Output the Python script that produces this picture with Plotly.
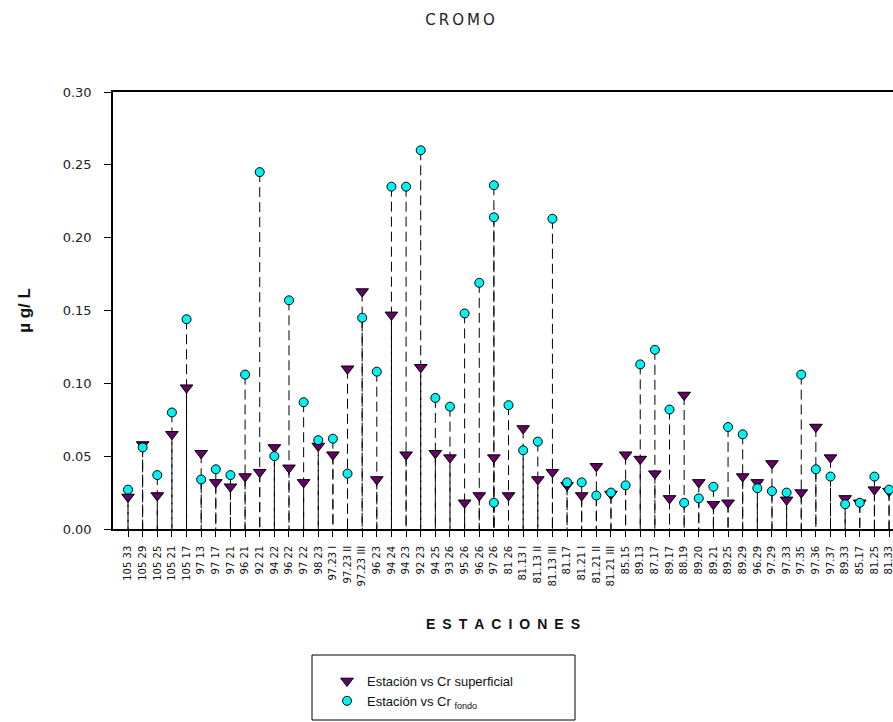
import plotly.graph_objects as go

# Estaciones de muestreo (orden del eje X)
estaciones = [
    "105 33", "105 29", "105 25", "105 21", "105 17", "97 13", "97 17", "97 21",
    "96 21", "92 21", "94 22", "96 22", "97 22", "98 23", "97.23 I", "97.23 II",
    "97.23 III", "96 23", "94 24", "94 23", "92 23", "94 25", "93 26", "95 26",
    "96 26", "97 26", "81 26", "81.13 I", "81.13 II", "81.13 III", "81.17",
    "81.21 I", "81.21 II", "81.21 III", "85.15", "89.13", "87.17", "89.17",
    "88.19", "89.20", "89.21", "89.25", "89.29", "96.29", "97.29", "97.33",
    "97.35", "97.36", "97.37", "89.33", "85.17", "81.25", "81.33",
]

# Cromo en superficie (µg/L)
cr_superficial = [
    0.022, 0.058, 0.023, 0.065, 0.097, 0.052, 0.032, 0.029, 0.036, 0.039,
    0.056, 0.042, 0.032, 0.057, 0.051, 0.110, 0.163, 0.034, 0.147, 0.051,
    0.111, 0.052, 0.049, 0.018, 0.023, 0.049, 0.023, 0.069, 0.034, 0.039,
    0.030, 0.023, 0.043, 0.024, 0.051, 0.048, 0.038, 0.021, 0.092, 0.032,
    0.017, 0.018, 0.036, 0.032, 0.045, 0.020, 0.025, 0.070, 0.049, 0.021,
    0.018, 0.027, 0.026,
]

# Cromo en fondo (µg/L)
cr_fondo = [
    0.027, 0.056, 0.037, 0.080, 0.144, 0.034, 0.041, 0.037, 0.106, 0.245,
    0.050, 0.157, 0.087, 0.061, 0.062, 0.038, 0.145, 0.108, 0.235, 0.235,
    0.260, 0.090, 0.084, 0.148, 0.169, 0.236, 0.085, 0.054, 0.060, 0.213,
    0.032, 0.032, 0.023, 0.025, 0.030, 0.113, 0.123, 0.082, 0.018, 0.021,
    0.029, 0.070, 0.065, 0.028, 0.026, 0.025, 0.106, 0.041, 0.036, 0.017,
    0.018, 0.036, 0.027,
]

# Muestras adicionales de fondo en la estación 97 26
fondo_extra_est = ["97 26", "97 26"]
fondo_extra = [0.214, 0.018]

PURPLE = "#660066"
CYAN = "#00F2F2"


def drop_lines(xs, ys):
    lx, ly = [], []
    for x, y in zip(xs, ys):
        lx += [x, x, None]
        ly += [y, 0, None]
    return lx, ly


fig = go.Figure()

# Líneas verticales discontinuas desde cada punto hasta el eje
for xs, ys in [(estaciones, cr_superficial), (estaciones, cr_fondo),
               (fondo_extra_est, fondo_extra)]:
    lx, ly = drop_lines(xs, ys)
    fig.add_trace(go.Scatter(
        x=lx, y=ly, mode="lines", showlegend=False, hoverinfo="skip",
        line=dict(color="black", width=1, dash="10px,5px"),
    ))

fig.add_trace(go.Scatter(
    x=estaciones, y=cr_superficial, mode="markers",
    name="Estación vs Cr superficial", legendgroup="sup",
    marker=dict(symbol="triangle-down", size=11, color=PURPLE,
                line=dict(color="black", width=1)),
))
fig.add_trace(go.Scatter(
    x=estaciones, y=cr_fondo, mode="markers",
    name="Estación vs Cr <sub>fondo</sub>", legendgroup="fondo",
    marker=dict(symbol="circle", size=9, color=CYAN,
                line=dict(color="black", width=1)),
))
fig.add_trace(go.Scatter(
    x=fondo_extra_est, y=fondo_extra, mode="markers",
    legendgroup="fondo", showlegend=False,
    marker=dict(symbol="circle", size=9, color=CYAN,
                line=dict(color="black", width=1)),
))

W, H = 893, 722
L, R, T, B = 113, 0, 92, 193
PW, PH = W - L - R, H - T - B


def px_x(x):
    return (x - L) / PW


def px_y(y):
    return (H - B - y) / PH


fig.update_layout(
    width=W, height=H,
    margin=dict(l=L, r=R, t=T, b=B, pad=0),
    paper_bgcolor="white", plot_bgcolor="white",
    font=dict(family="DejaVu Sans, Arial, sans-serif", color="#111"),
    title=dict(text="C\u2009R\u2009O\u2009M\u2009O", x=460 / W, xanchor="center",
               y=1 - 20 / H, yanchor="middle",
               font=dict(size=15, color="#222")),
    showlegend=True,
    legend=dict(
        x=px_x(327), xanchor="left", y=px_y(666), yanchor="top",
        borderwidth=0, bgcolor="rgba(0,0,0,0)",
        font=dict(family="Arial, Liberation Sans, sans-serif", size=13,
                  color="#111"),
        itemwidth=30, tracegroupgap=0,
    ),
    shapes=[dict(type="rect", xref="paper", yref="paper",
                 x0=px_x(312), x1=px_x(575), y0=px_y(655), y1=px_y(720),
                 line=dict(color="black", width=1), fillcolor="rgba(0,0,0,0)",
                 layer="above")],
    xaxis=dict(
        type="category", categoryorder="array", categoryarray=estaciones,
        range=[-1.025, 52.27],
        showline=True, linecolor="black", linewidth=1.5, mirror=True,
        showgrid=False, zeroline=False,
        ticks="outside", ticklen=6, tickcolor="black", tickwidth=1,
        tickangle=-90, ticklabelstandoff=5,
        tickfont=dict(size=10, color="#111"),
        title=dict(
            text="<b>E\u2002S\u2002T\u2002A\u2002C\u2002I\u2002O\u2002N\u2002E\u2002S</b>",
            standoff=34,
            font=dict(family="Arial, Liberation Sans, sans-serif", size=14,
                      color="#111")),
    ),
    yaxis=dict(
        range=[0, 0.30], dtick=0.05, tickformat=".2f",
        showline=True, linecolor="black", linewidth=1.5,
        showgrid=False, zeroline=False,
        ticks="outside", ticklen=7, tickcolor="black",
        ticklabelstandoff=10,
        tickfont=dict(size=13, color="#222"),
        title=dict(text="<b>µ g/ L</b>", standoff=28,
                   font=dict(family="Arial, Liberation Sans, sans-serif",
                             size=17, color="#111")),
    ),
)

fig.write_html("out.html")
